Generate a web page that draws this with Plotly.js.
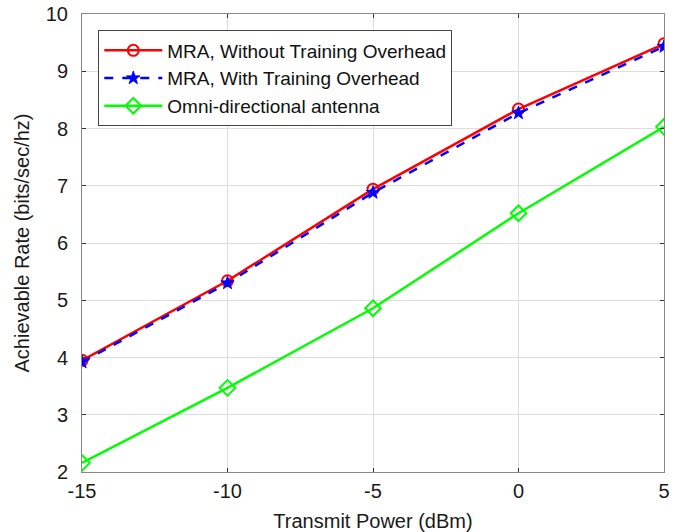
<!DOCTYPE html>
<html><head><meta charset="utf-8">
<script src="https://cdn.plot.ly/plotly-3.0.1.min.js"></script>
<style>html,body{margin:0;padding:0;background:#fff}#chart{width:687px;height:532px}</style>
</head><body><div id="chart"></div>
<script>
const xPower = [-15, -10, -5, 0, 5];
const mraNoOverhead = [3.95, 5.34, 6.94, 8.34, 9.48];
const mraWithOverhead = [3.92, 5.30, 6.88, 8.27, 9.43];
const omni = [2.16, 3.47, 4.86, 6.52, 8.03];
const xTicks = [-15, -10, -5, 0, 5];
const yTicks = [2, 3, 4, 5, 6, 7, 8, 9, 10];

const traces = [
  {x: xPower, y: mraNoOverhead, name: 'MRA, Without Training Overhead', mode: 'lines+markers',
   line: {color: '#ff0000', width: 2.5}, marker: {symbol: 'circle-open', size: 11, color: '#ff0000', line: {width: 2}}},
  {x: xPower, y: mraWithOverhead, name: 'MRA, With Training Overhead', mode: 'lines+markers',
   line: {color: '#0000ff', width: 2.5, dash: 'dash'}, marker: {symbol: 'star', size: 10, color: '#0000ff', line: {width: 1, color: '#0000ff'}}},
  {x: xPower, y: omni, name: 'Omni-directional antenna', mode: 'lines+markers',
   line: {color: '#00ff00', width: 2.5}, marker: {symbol: 'diamond-open', size: 12, color: '#00ff00', line: {width: 2}}}
];

const layout = {
  width: 687, height: 532,
  margin: {l: 82, r: 23, t: 14, b: 60},
  paper_bgcolor: '#ffffff', plot_bgcolor: '#ffffff',
  font: {family: 'Liberation Sans, Arial, sans-serif', size: 19, color: '#1a1a1a'},
  showlegend: true,
  legend: {x: 0.028, y: 0.964, xanchor: 'left', yanchor: 'top', bordercolor: '#444', borderwidth: 1,
           bgcolor: '#ffffff', font: {size: 19, color: '#111'}, itemwidth: 58, tracegroupgap: 0},
  xaxis: {range: [-15, 5], tickvals: xTicks, ticktext: xTicks.map(String), showgrid: true, gridcolor: '#dddddd',
          zeroline: false, showline: true, linecolor: '#888', mirror: 'ticks', ticks: 'inside', ticklen: 4, tickcolor: '#333',
          tickfont: {size: 20}, ticklabelstandoff: 1,
          title: {text: 'Transmit Power (dBm)', font: {size: 20}, standoff: 12}},
  yaxis: {range: [2, 10], tickvals: yTicks, ticktext: yTicks.map(String), showgrid: true, gridcolor: '#dddddd',
          zeroline: false, showline: true, linecolor: '#888', mirror: 'ticks', ticks: 'inside', ticklen: 4, tickcolor: '#333',
          tickfont: {size: 20}, ticklabelstandoff: 9,
          title: {text: 'Achievable Rate (bits/sec/hz)', font: {size: 20}, standoff: 10}}
};
Plotly.newPlot('chart', traces, layout, {displayModeBar: false, staticPlot: true});
</script></body></html>
